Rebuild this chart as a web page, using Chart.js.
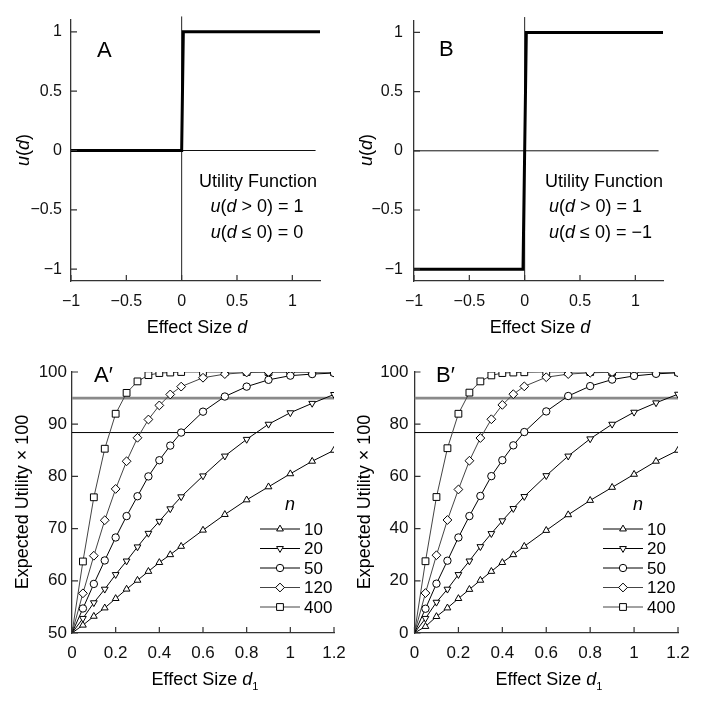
<!DOCTYPE html>
<html lang="en">
<head>
<meta charset="UTF-8">
<title>Utility Functions and Expected Utility</title>
<script src="https://cdn.jsdelivr.net/npm/chart.js"></script>
<style>
    * { margin: 0; padding: 0; box-sizing: border-box; }
    body { background: #ffffff; }
    #wrap { position: relative; width: 706px; height: 701px; }
    #wrap canvas { position: absolute; left: 0; top: 0; }
</style>
</head>
<body>
<div id="wrap">
    <canvas id="panelA" width="706" height="701"></canvas>
    <canvas id="panelB" width="706" height="701"></canvas>
    <canvas id="panelA2" width="706" height="701"></canvas>
    <canvas id="panelB2" width="706" height="701"></canvas>
</div>
<script>
// ---- top panels: utility functions ----
const stepA_d = [-1, 0, 0.015, 1.25];
const stepA_u = [0, 0, 1, 1];
const stepB_d = [-1, -0.015, 0.015, 1.25];
const stepB_u = [-1, -1, 1, 1];
const zeroLine_d = [-1, 1.21];
const vertLine_u = [-1.1, 1.13];
const topXTicks = [-1, -0.5, 0, 0.5, 1];
const topXLabels = ['−1', '−0.5', '0', '0.5', '1'];
const topYTicks = [-1, -0.5, 0, 0.5, 1];
const topYLabels = ['−1', '−0.5', '0', '0.5', '1'];

// ---- bottom panels: expected utility x 100 ----
const d1 = [0, 0.05, 0.1, 0.15, 0.2, 0.25, 0.3, 0.35, 0.4, 0.45, 0.5, 0.6, 0.7, 0.8, 0.9, 1.0, 1.1, 1.2];
const sampleSizes = ['10', '20', '50', '120', '400'];

const euA_n10  = [50, 51.5, 53.2, 54.8, 56.6, 58.4, 60.1, 61.8, 63.5, 65.0, 66.6, 69.7, 72.7, 75.5, 78.0, 80.5, 82.9, 85.0];
const euA_n20  = [50, 52.8, 55.8, 58.4, 61.2, 63.8, 66.5, 69.1, 71.4, 73.8, 76.1, 80.1, 83.9, 87.1, 90.0, 92.2, 94.0, 95.7];
const euA_n50  = [50, 54.7, 59.4, 63.9, 68.3, 72.4, 76.2, 80.0, 83.1, 85.9, 88.4, 92.4, 95.3, 97.2, 98.5, 99.3, 99.6, 99.8];
const euA_n120 = [50, 57.6, 64.8, 71.6, 77.6, 82.9, 87.4, 90.9, 93.6, 95.7, 97.2, 98.9, 99.6, 99.9, 100, 100, 100, 100];
const euA_n400 = [50, 63.7, 76.0, 85.3, 92.0, 96.0, 98.2, 99.4, 99.8, 99.9, 100, 100, 100, 100, 100, 100, 100, 100];

const euB_n10  = [0, 2.5, 6.3, 9.6, 13.2, 16.7, 20.2, 23.6, 27.0, 30.0, 33.2, 39.3, 45.3, 50.8, 55.8, 60.8, 65.8, 70.0];
const euB_n20  = [0, 5.6, 11.8, 16.8, 22.4, 27.6, 33.1, 38.1, 43.0, 47.7, 52.3, 60.3, 67.8, 74.4, 80.0, 84.6, 88.2, 91.5];
const euB_n50  = [0, 9.3, 18.9, 27.7, 36.6, 44.8, 52.5, 60.1, 66.2, 71.9, 77.0, 84.9, 90.8, 94.6, 97.1, 98.5, 99.3, 99.7];
const euB_n120 = [0, 15.3, 29.8, 43.3, 55.0, 66.0, 74.7, 81.9, 87.4, 91.5, 94.5, 98.0, 99.2, 99.7, 99.9, 100, 100, 100];
const euB_n400 = [0, 27.5, 52.1, 70.8, 84.0, 92.1, 96.4, 98.7, 99.6, 99.8, 99.9, 100, 100, 100, 100, 100, 100, 100];

const refLinesA = [95, 88.4];   // grey, black
const refLinesB = [90, 76.8];
const refLine_d = [0, 1.2];

const botXTicks = [0, 0.2, 0.4, 0.6, 0.8, 1, 1.2];
const botXLabels = ['0', '0.2', '0.4', '0.6', '0.8', '1', '1.2'];
const botYTicksA = [50, 60, 70, 80, 90, 100];
const botYTicksB = [0, 20, 40, 60, 80, 100];

// ---- drawing helpers ----
const W = 706, H = 701;
const YAXIS_W = 60, XAXIS_H = 40;   // fixed scale boxes so labels are not clipped
const FONT = "'Liberation Sans', Arial, Helvetica, sans-serif";
const markers = [
    { style: 'triangle', rot: 0,   r: 3.9 },
    { style: 'triangle', rot: 180, r: 3.9 },
    { style: 'circle',   rot: 0,   r: 3.7 },
    { style: 'rectRot',  rot: 0,   r: 4.4 },
    { style: 'rect',     rot: 0,   r: 4.8 }
];
const lineColors = ['#000', '#000', '#000', '#444', '#444'];

function axis(min, max, vals, labels, size, pad, isX) {
    return {
        type: 'linear', min: min, max: max,
        position: isX ? 'bottom' : 'left',
        afterBuildTicks: s => { s.ticks = vals.map(v => ({ value: v })); },
        afterFit: s => { if (isX) s.height = XAXIS_H; else s.width = YAXIS_W; },
        grid: { display: false, drawTicks: false },
        border: { display: true, color: '#333', width: 1.3 },
        ticks: {
            color: '#111', font: { family: FONT, size: size }, padding: pad,
            maxRotation: 0, minRotation: 0, autoSkip: false,
            callback: (v, i) => labels[i]
        }
    };
}

function line(xs, ys, color, width, order, clip) {
    return {
        data: xs.map((x, i) => ({ x: x, y: ys[i] })),
        showLine: true, borderColor: color, borderWidth: width,
        pointRadius: 0, order: order, clip: clip === false ? false : undefined
    };
}

function seriesSets(all) {
    return all.map((vals, k) => ({
        data: d1.map((d, i) => ({ x: d, y: vals[i] })),
        showLine: true, borderColor: lineColors[k], borderWidth: 1,
        pointStyle: markers[k].style, pointRotation: markers[k].rot,
        pointRadius: c => c.dataIndex === 0 ? 0 : markers[k].r,
        pointBackgroundColor: '#fff', pointBorderColor: '#000', pointBorderWidth: 1,
        order: 1
    }));
}

// text with italic / subscript parts: [text, style] with style '', 'i' or 's'
function drawRich(ctx, parts, x, y, size, align) {
    const fontOf = st => (st === 'i' ? 'italic ' : '') + (st === 's' ? Math.round(size * 0.62) : size) + 'px ' + FONT;
    let total = 0;
    parts.forEach(p => { ctx.font = fontOf(p[1]); total += ctx.measureText(p[0]).width; });
    let cx = align === 'center' ? x - total / 2 : (align === 'right' ? x - total : x);
    ctx.textAlign = 'left';
    parts.forEach(p => {
        ctx.font = fontOf(p[1]);
        ctx.fillText(p[0], cx, p[1] === 's' ? y + size * 0.3 : y);
        cx += ctx.measureText(p[0]).width;
    });
}

function decor(cfg) {
    return {
        id: 'decor',
        afterDraw(chart) {
            const ctx = chart.ctx, ca = chart.chartArea;
            const xs = chart.scales.x, ys = chart.scales.y;
            ctx.save();
            // inward tick marks
            ctx.strokeStyle = '#333';
            ctx.lineWidth = 1.2;
            ctx.beginPath();
            xs.ticks.forEach(t => {
                const px = xs.getPixelForValue(t.value);
                ctx.moveTo(px, ca.bottom); ctx.lineTo(px, ca.bottom - 6);
            });
            ys.ticks.forEach(t => {
                const py = ys.getPixelForValue(t.value);
                ctx.moveTo(ca.left, py); ctx.lineTo(ca.left + 6, py);
            });
            ctx.stroke();

            ctx.fillStyle = '#000';
            ctx.textBaseline = 'alphabetic';
            // panel letter
            drawRich(ctx, [[cfg.letter, '']], cfg.letterPos[0], cfg.letterPos[1], 22, 'left');
            // x title
            drawRich(ctx, cfg.xTitle, cfg.xTitlePos[0], cfg.xTitlePos[1], 18, 'center');
            // y title (rotated)
            ctx.save();
            ctx.translate(cfg.yTitlePos[0], cfg.yTitlePos[1]);
            ctx.rotate(-Math.PI / 2);
            ctx.textBaseline = 'middle';
            drawRich(ctx, cfg.yTitle, 0, 0, 18, 'center');
            ctx.restore();
            // free texts
            (cfg.texts || []).forEach(t => drawRich(ctx, t.parts, t.x, t.y, 18, t.align));

            // legend
            if (cfg.legend) {
                const lg = cfg.legend;
                drawRich(ctx, [['n', 'i']], lg.nPos[0], lg.nPos[1], 18, 'center');
                sampleSizes.forEach((lab, k) => {
                    const y = lg.y0 + lg.dy * k;
                    ctx.strokeStyle = lineColors[k];
                    ctx.lineWidth = 1;
                    ctx.beginPath();
                    ctx.moveTo(lg.x0, y); ctx.lineTo(lg.x1, y);
                    ctx.stroke();
                    ctx.fillStyle = '#fff';
                    ctx.strokeStyle = '#000';
                    Chart.helpers.drawPoint(ctx, {
                        pointStyle: markers[k].style, rotation: markers[k].rot,
                        radius: markers[k].r, borderWidth: 1
                    }, (lg.x0 + lg.x1) / 2, y);
                    ctx.fillStyle = '#000';
                    ctx.font = '17px ' + FONT;
                    ctx.textAlign = 'left';
                    ctx.textBaseline = 'middle';
                    ctx.fillText(lab, lg.xText, y + 1);
                });
            }
            ctx.restore();
        }
    };
}

function panel(id, area, scales, datasets, cfg) {
    return new Chart(document.getElementById(id), {
        type: 'scatter',
        data: { datasets: datasets },
        options: {
            responsive: false, animation: false, devicePixelRatio: 1, events: [],
            layout: { padding: {
                left: area.l - YAXIS_W, top: area.t,
                right: W - area.r, bottom: H - area.b - XAXIS_H
            } },
            scales: scales,
            plugins: { legend: { display: false }, tooltip: { enabled: false } }
        },
        plugins: [decor(cfg)]
    });
}

const uTitle = [['u', 'i'], ['(', ''], ['d', 'i'], [')', '']];
const dTitle = [['Effect Size ', ''], ['d', 'i']];
const d1Title = [['Effect Size ', ''], ['d', 'i'], ['1', 's']];
const euTitle = [['Expected Utility × 100', '']];

// Panel A
panel('panelA', { l: 71, r: 320, t: 20, b: 281 }, {
    x: axis(-1, 1.25, topXTicks, topXLabels, 16, 11, true),
    y: axis(-1.1, 1.1, topYTicks, topYLabels, 16, 9, false)
}, [
    line(stepA_d, stepA_u, '#000', 3, 0),
    line(zeroLine_d, [0, 0], '#111', 1, 2),
    line([0, 0], vertLine_u, '#222', 1, 2, false)
], {
    letter: 'A', letterPos: [97, 57],
    xTitle: dTitle, xTitlePos: [197, 333],
    yTitle: uTitle, yTitlePos: [24, 150],
    texts: [
        { parts: [['Utility Function', '']], x: 258, y: 187, align: 'center' },
        { parts: [['u', 'i'], ['(', ''], ['d', 'i'], [' > 0) = 1', '']], x: 257, y: 212, align: 'center' },
        { parts: [['u', 'i'], ['(', ''], ['d', 'i'], [' ≤ 0) = 0', '']], x: 257, y: 238, align: 'center' }
    ]
});

// Panel B
panel('panelB', { l: 414, r: 663, t: 20, b: 281 }, {
    x: axis(-1, 1.25, topXTicks, topXLabels, 16, 11, true),
    y: axis(-1.1, 1.1, topYTicks, topYLabels, 16, 11, false)
}, [
    line(stepB_d, stepB_u, '#000', 3, 0),
    line(zeroLine_d, [0, 0], '#111', 1, 2),
    line([0, 0], vertLine_u, '#222', 1, 2, false)
], {
    letter: 'B', letterPos: [439, 56],
    xTitle: dTitle, xTitlePos: [540, 333],
    yTitle: uTitle, yTitlePos: [367, 150],
    texts: [
        { parts: [['Utility Function', '']], x: 604, y: 187, align: 'center' },
        { parts: [['u', 'i'], ['(', ''], ['d', 'i'], [' > 0) = 1', '']], x: 549, y: 212, align: 'left' },
        { parts: [['u', 'i'], ['(', ''], ['d', 'i'], [' ≤ 0) = −1', '']], x: 549, y: 238, align: 'left' }
    ]
});

// Panel A'
panel('panelA2', { l: 72, r: 334, t: 372, b: 633 }, {
    x: axis(0, 1.2, botXTicks, botXLabels, 17, 10, true),
    y: axis(50, 100, botYTicksA, botYTicksA.map(String), 17, 5, false)
}, seriesSets([euA_n10, euA_n20, euA_n50, euA_n120, euA_n400]).concat([
    line(refLine_d, [refLinesA[0], refLinesA[0]], '#8a8a8a', 2.6, 5),
    line(refLine_d, [refLinesA[1], refLinesA[1]], '#000', 1, 5)
]), {
    letter: 'A′', letterPos: [94, 382],
    xTitle: d1Title, xTitlePos: [205, 685],
    yTitle: euTitle, yTitlePos: [23, 502],
    legend: { nPos: [290, 510], x0: 260, x1: 300, xText: 304, y0: 529, dy: 19.5 }
});

// Panel B'
panel('panelB2', { l: 414.5, r: 678, t: 372, b: 633 }, {
    x: axis(0, 1.2, botXTicks, botXLabels, 17, 10, true),
    y: axis(0, 100, botYTicksB, botYTicksB.map(String), 17, 6, false)
}, seriesSets([euB_n10, euB_n20, euB_n50, euB_n120, euB_n400]).concat([
    line(refLine_d, [refLinesB[0], refLinesB[0]], '#8a8a8a', 2.6, 5),
    line(refLine_d, [refLinesB[1], refLinesB[1]], '#000', 1, 5)
]), {
    letter: 'B′', letterPos: [436, 382],
    xTitle: d1Title, xTitlePos: [549, 685],
    yTitle: euTitle, yTitlePos: [365, 502],
    legend: { nPos: [638, 510], x0: 603, x1: 643, xText: 647, y0: 529, dy: 19.5 }
});
</script>
</body>
</html>
